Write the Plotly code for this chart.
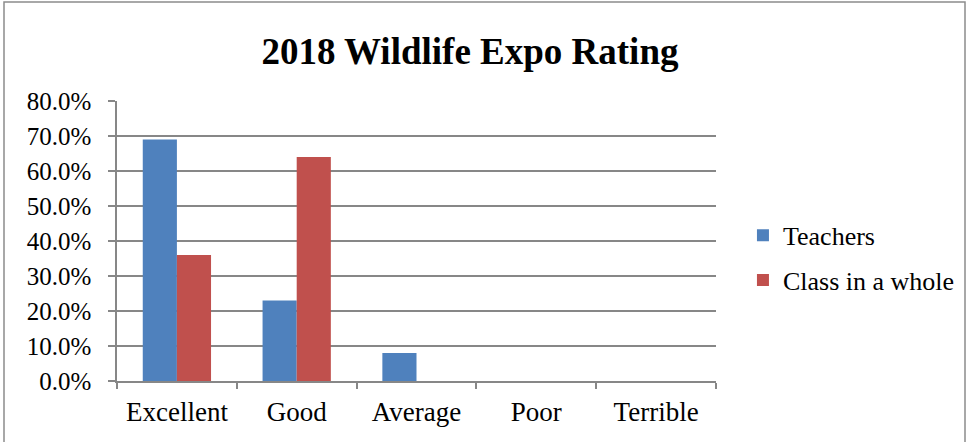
import plotly.graph_objects as go

categories = ["Excellent", "Good", "Average", "Poor", "Terrible"]
teachers = [0.69, 0.23, 0.08, 0.0, 0.0]
class_whole = [0.36, 0.64, 0.0, 0.0, 0.0]
series_names = ["Teachers", "Class in a whole"]
y_ticks = [0.0, 0.1, 0.2, 0.3, 0.4, 0.5, 0.6, 0.7, 0.8]
title_text = "2018 Wildlife Expo Rating"

BLUE = "#4F81BD"
RED = "#C0504D"
GRID = "#878787"
FONT = "Liberation Serif, Times New Roman, serif"

fig = go.Figure()
fig.add_trace(go.Bar(x=categories, y=teachers, name=series_names[0],
                     marker=dict(color=BLUE, line=dict(width=0)), legendgroup="a"))
fig.add_trace(go.Bar(x=categories, y=class_whole, name=series_names[1],
                     marker=dict(color=RED, line=dict(width=0)), legendgroup="b"))

fig.update_layout(
    width=967, height=442,
    margin=dict(l=117, r=251, t=101, b=61, autoexpand=False),
    paper_bgcolor="white", plot_bgcolor="white",
    barmode="group", bargap=0.43, bargroupgap=0,
    font=dict(family=FONT, size=26, color="black"),
    title=dict(text="<b>" + title_text + "</b>", x=0.486, xanchor="center",
               y=0.885, yanchor="middle",
               font=dict(family=FONT, size=37, color="black")),
    legend=dict(x=1.045, xanchor="left", y=0.44, yanchor="middle",
                font=dict(family=FONT, size=26, color="black"),
                tracegroupgap=8, traceorder="grouped",
                itemwidth=30, bgcolor="rgba(0,0,0,0)"),
    showlegend=True,
)
fig.update_xaxes(
    type="category", showgrid=False, showline=True, linecolor=GRID, linewidth=1.5,
    ticks="outside", tickson="boundaries", ticklen=6, tickcolor=GRID, tickwidth=1.5,
    tickfont=dict(family=FONT, size=27, color="black"), ticklabelstandoff=6,
    automargin=False,
)
fig.update_yaxes(
    range=[0, 0.8], tickvals=y_ticks, tickformat=".1%",
    showgrid=True, gridcolor=GRID, gridwidth=1.5,
    showline=True, linecolor=GRID, linewidth=1.5,
    ticks="outside", ticklen=7, tickcolor=GRID, tickwidth=1.5,
    tickfont=dict(family=FONT, size=25, color="black"), ticklabelstandoff=12,
    zeroline=False, automargin=False,
)
# chart border frame
fig.add_shape(type="rect", xref="paper", yref="paper",
              x0=(4 - 117) / 599, x1=(965 - 117) / 599,
              y0=-0.5, y1=(381 - 2) / 280,
              line=dict(color="#8c8c8c", width=1.5), fillcolor="rgba(0,0,0,0)",
              layer="below")

fig.write_html("out.html", config={"displayModeBar": False},
               post_script="document.body.style.margin='0';document.body.style.overflow='hidden';")
